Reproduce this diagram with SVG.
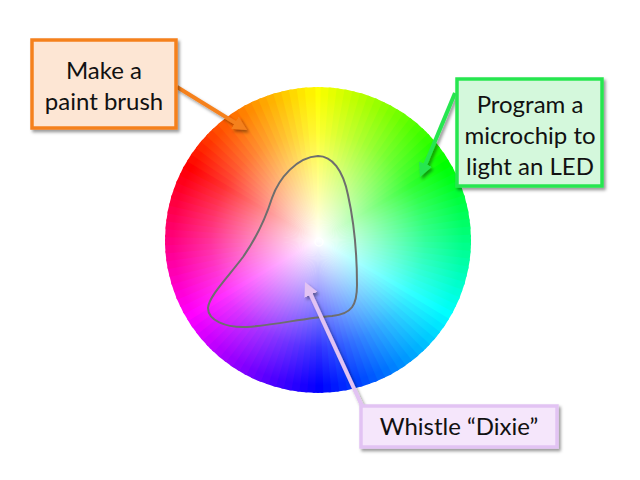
<svg xmlns="http://www.w3.org/2000/svg" width="640" height="480" viewBox="0 0 640 480">
<defs>
<style>
.lbl{font-family:Lato,"Open Sans","DejaVu Sans",sans-serif;font-size:24px;fill:#111;text-anchor:middle}
.box{stroke-width:3.5}
.arr{fill:none;stroke-width:4}
</style>
<path id="w" d="M318,240 L312.4,80 L323.6,80 Z"/>
<clipPath id="wc"><circle cx="318" cy="240" r="153"/></clipPath>
<radialGradient id="wg" cx="318" cy="240" r="153" gradientUnits="userSpaceOnUse">
<stop offset="0" stop-color="#fff" stop-opacity="1"/>
<stop offset="0.35" stop-color="#fff" stop-opacity="0.6"/>
<stop offset="0.7" stop-color="#fff" stop-opacity="0.2"/>
<stop offset="0.95" stop-color="#fff" stop-opacity="0"/>
</radialGradient>
<filter id="sh" x="-20%" y="-20%" width="140%" height="140%">
<feDropShadow dx="2" dy="2.5" stdDeviation="1.5" flood-color="#000" flood-opacity="0.4"/>
</filter>
<marker id="mo" viewBox="0 0 10 10" refX="3" refY="5" markerWidth="14" markerHeight="14" markerUnits="userSpaceOnUse" orient="auto"><path d="M0,0 L10,5 L0,10 Z" fill="#f5811f"/></marker>
<marker id="mg" viewBox="0 0 10 10" refX="3" refY="5" markerWidth="14" markerHeight="14" markerUnits="userSpaceOnUse" orient="auto"><path d="M0,0 L10,5 L0,10 Z" fill="#27e650"/></marker>
<marker id="ml" viewBox="0 0 10 10" refX="3" refY="5" markerWidth="14" markerHeight="14" markerUnits="userSpaceOnUse" orient="auto"><path d="M0,0 L10,5 L0,10 Z" fill="#e2c3f3"/></marker>
</defs>
<rect width="640" height="480" fill="#fff"/>
<g id="wheel">
<g clip-path="url(#wc)">
<use href="#w" transform="rotate(0 318 240)" fill="hsl(60,100%,50%)"/>
<use href="#w" transform="rotate(3 318 240)" fill="hsl(63,100%,50%)"/>
<use href="#w" transform="rotate(6 318 240)" fill="hsl(66,100%,50%)"/>
<use href="#w" transform="rotate(9 318 240)" fill="hsl(69,100%,50%)"/>
<use href="#w" transform="rotate(12 318 240)" fill="hsl(72,100%,50%)"/>
<use href="#w" transform="rotate(15 318 240)" fill="hsl(75,100%,50%)"/>
<use href="#w" transform="rotate(18 318 240)" fill="hsl(78,100%,50%)"/>
<use href="#w" transform="rotate(21 318 240)" fill="hsl(81,100%,50%)"/>
<use href="#w" transform="rotate(24 318 240)" fill="hsl(84,100%,50%)"/>
<use href="#w" transform="rotate(27 318 240)" fill="hsl(87,100%,50%)"/>
<use href="#w" transform="rotate(30 318 240)" fill="hsl(90,100%,50%)"/>
<use href="#w" transform="rotate(33 318 240)" fill="hsl(93,100%,50%)"/>
<use href="#w" transform="rotate(36 318 240)" fill="hsl(96,100%,50%)"/>
<use href="#w" transform="rotate(39 318 240)" fill="hsl(99,100%,50%)"/>
<use href="#w" transform="rotate(42 318 240)" fill="hsl(102,100%,50%)"/>
<use href="#w" transform="rotate(45 318 240)" fill="hsl(105,100%,50%)"/>
<use href="#w" transform="rotate(48 318 240)" fill="hsl(108,100%,50%)"/>
<use href="#w" transform="rotate(51 318 240)" fill="hsl(111,100%,50%)"/>
<use href="#w" transform="rotate(54 318 240)" fill="hsl(114,100%,50%)"/>
<use href="#w" transform="rotate(57 318 240)" fill="hsl(117,100%,50%)"/>
<use href="#w" transform="rotate(60 318 240)" fill="hsl(120,100%,50%)"/>
<use href="#w" transform="rotate(63 318 240)" fill="hsl(123,100%,50%)"/>
<use href="#w" transform="rotate(66 318 240)" fill="hsl(126,100%,50%)"/>
<use href="#w" transform="rotate(69 318 240)" fill="hsl(129,100%,50%)"/>
<use href="#w" transform="rotate(72 318 240)" fill="hsl(132,100%,50%)"/>
<use href="#w" transform="rotate(75 318 240)" fill="hsl(135,100%,50%)"/>
<use href="#w" transform="rotate(78 318 240)" fill="hsl(138,100%,50%)"/>
<use href="#w" transform="rotate(81 318 240)" fill="hsl(141,100%,50%)"/>
<use href="#w" transform="rotate(84 318 240)" fill="hsl(144,100%,50%)"/>
<use href="#w" transform="rotate(87 318 240)" fill="hsl(147,100%,50%)"/>
<use href="#w" transform="rotate(90 318 240)" fill="hsl(150,100%,50%)"/>
<use href="#w" transform="rotate(93 318 240)" fill="hsl(153,100%,50%)"/>
<use href="#w" transform="rotate(96 318 240)" fill="hsl(156,100%,50%)"/>
<use href="#w" transform="rotate(99 318 240)" fill="hsl(159,100%,50%)"/>
<use href="#w" transform="rotate(102 318 240)" fill="hsl(162,100%,50%)"/>
<use href="#w" transform="rotate(105 318 240)" fill="hsl(165,100%,50%)"/>
<use href="#w" transform="rotate(108 318 240)" fill="hsl(168,100%,50%)"/>
<use href="#w" transform="rotate(111 318 240)" fill="hsl(171,100%,50%)"/>
<use href="#w" transform="rotate(114 318 240)" fill="hsl(174,100%,50%)"/>
<use href="#w" transform="rotate(117 318 240)" fill="hsl(177,100%,50%)"/>
<use href="#w" transform="rotate(120 318 240)" fill="hsl(180,100%,50%)"/>
<use href="#w" transform="rotate(123 318 240)" fill="hsl(183,100%,50%)"/>
<use href="#w" transform="rotate(126 318 240)" fill="hsl(186,100%,50%)"/>
<use href="#w" transform="rotate(129 318 240)" fill="hsl(189,100%,50%)"/>
<use href="#w" transform="rotate(132 318 240)" fill="hsl(192,100%,50%)"/>
<use href="#w" transform="rotate(135 318 240)" fill="hsl(195,100%,50%)"/>
<use href="#w" transform="rotate(138 318 240)" fill="hsl(198,100%,50%)"/>
<use href="#w" transform="rotate(141 318 240)" fill="hsl(201,100%,50%)"/>
<use href="#w" transform="rotate(144 318 240)" fill="hsl(204,100%,50%)"/>
<use href="#w" transform="rotate(147 318 240)" fill="hsl(207,100%,50%)"/>
<use href="#w" transform="rotate(150 318 240)" fill="hsl(210,100%,50%)"/>
<use href="#w" transform="rotate(153 318 240)" fill="hsl(213,100%,50%)"/>
<use href="#w" transform="rotate(156 318 240)" fill="hsl(216,100%,50%)"/>
<use href="#w" transform="rotate(159 318 240)" fill="hsl(219,100%,50%)"/>
<use href="#w" transform="rotate(162 318 240)" fill="hsl(222,100%,50%)"/>
<use href="#w" transform="rotate(165 318 240)" fill="hsl(225,100%,50%)"/>
<use href="#w" transform="rotate(168 318 240)" fill="hsl(228,100%,50%)"/>
<use href="#w" transform="rotate(171 318 240)" fill="hsl(231,100%,50%)"/>
<use href="#w" transform="rotate(174 318 240)" fill="hsl(234,100%,50%)"/>
<use href="#w" transform="rotate(177 318 240)" fill="hsl(237,100%,50%)"/>
<use href="#w" transform="rotate(180 318 240)" fill="hsl(240,100%,50%)"/>
<use href="#w" transform="rotate(183 318 240)" fill="hsl(243,100%,50%)"/>
<use href="#w" transform="rotate(186 318 240)" fill="hsl(246,100%,50%)"/>
<use href="#w" transform="rotate(189 318 240)" fill="hsl(249,100%,50%)"/>
<use href="#w" transform="rotate(192 318 240)" fill="hsl(252,100%,50%)"/>
<use href="#w" transform="rotate(195 318 240)" fill="hsl(255,100%,50%)"/>
<use href="#w" transform="rotate(198 318 240)" fill="hsl(258,100%,50%)"/>
<use href="#w" transform="rotate(201 318 240)" fill="hsl(261,100%,50%)"/>
<use href="#w" transform="rotate(204 318 240)" fill="hsl(264,100%,50%)"/>
<use href="#w" transform="rotate(207 318 240)" fill="hsl(267,100%,50%)"/>
<use href="#w" transform="rotate(210 318 240)" fill="hsl(270,100%,50%)"/>
<use href="#w" transform="rotate(213 318 240)" fill="hsl(273,100%,50%)"/>
<use href="#w" transform="rotate(216 318 240)" fill="hsl(276,100%,50%)"/>
<use href="#w" transform="rotate(219 318 240)" fill="hsl(279,100%,50%)"/>
<use href="#w" transform="rotate(222 318 240)" fill="hsl(282,100%,50%)"/>
<use href="#w" transform="rotate(225 318 240)" fill="hsl(285,100%,50%)"/>
<use href="#w" transform="rotate(228 318 240)" fill="hsl(288,100%,50%)"/>
<use href="#w" transform="rotate(231 318 240)" fill="hsl(291,100%,50%)"/>
<use href="#w" transform="rotate(234 318 240)" fill="hsl(294,100%,50%)"/>
<use href="#w" transform="rotate(237 318 240)" fill="hsl(297,100%,50%)"/>
<use href="#w" transform="rotate(240 318 240)" fill="hsl(300,100%,50%)"/>
<use href="#w" transform="rotate(243 318 240)" fill="hsl(303,100%,50%)"/>
<use href="#w" transform="rotate(246 318 240)" fill="hsl(306,100%,50%)"/>
<use href="#w" transform="rotate(249 318 240)" fill="hsl(309,100%,50%)"/>
<use href="#w" transform="rotate(252 318 240)" fill="hsl(312,100%,50%)"/>
<use href="#w" transform="rotate(255 318 240)" fill="hsl(315,100%,50%)"/>
<use href="#w" transform="rotate(258 318 240)" fill="hsl(318,100%,50%)"/>
<use href="#w" transform="rotate(261 318 240)" fill="hsl(321,100%,50%)"/>
<use href="#w" transform="rotate(264 318 240)" fill="hsl(324,100%,50%)"/>
<use href="#w" transform="rotate(267 318 240)" fill="hsl(327,100%,50%)"/>
<use href="#w" transform="rotate(270 318 240)" fill="hsl(330,100%,50%)"/>
<use href="#w" transform="rotate(273 318 240)" fill="hsl(333,100%,50%)"/>
<use href="#w" transform="rotate(276 318 240)" fill="hsl(336,100%,50%)"/>
<use href="#w" transform="rotate(279 318 240)" fill="hsl(339,100%,50%)"/>
<use href="#w" transform="rotate(282 318 240)" fill="hsl(342,100%,50%)"/>
<use href="#w" transform="rotate(285 318 240)" fill="hsl(345,100%,50%)"/>
<use href="#w" transform="rotate(288 318 240)" fill="hsl(348,100%,50%)"/>
<use href="#w" transform="rotate(291 318 240)" fill="hsl(351,100%,50%)"/>
<use href="#w" transform="rotate(294 318 240)" fill="hsl(354,100%,50%)"/>
<use href="#w" transform="rotate(297 318 240)" fill="hsl(357,100%,50%)"/>
<use href="#w" transform="rotate(300 318 240)" fill="hsl(0,100%,50%)"/>
<use href="#w" transform="rotate(303 318 240)" fill="hsl(3,100%,50%)"/>
<use href="#w" transform="rotate(306 318 240)" fill="hsl(6,100%,50%)"/>
<use href="#w" transform="rotate(309 318 240)" fill="hsl(9,100%,50%)"/>
<use href="#w" transform="rotate(312 318 240)" fill="hsl(12,100%,50%)"/>
<use href="#w" transform="rotate(315 318 240)" fill="hsl(15,100%,50%)"/>
<use href="#w" transform="rotate(318 318 240)" fill="hsl(18,100%,50%)"/>
<use href="#w" transform="rotate(321 318 240)" fill="hsl(21,100%,50%)"/>
<use href="#w" transform="rotate(324 318 240)" fill="hsl(24,100%,50%)"/>
<use href="#w" transform="rotate(327 318 240)" fill="hsl(27,100%,50%)"/>
<use href="#w" transform="rotate(330 318 240)" fill="hsl(30,100%,50%)"/>
<use href="#w" transform="rotate(333 318 240)" fill="hsl(33,100%,50%)"/>
<use href="#w" transform="rotate(336 318 240)" fill="hsl(36,100%,50%)"/>
<use href="#w" transform="rotate(339 318 240)" fill="hsl(39,100%,50%)"/>
<use href="#w" transform="rotate(342 318 240)" fill="hsl(42,100%,50%)"/>
<use href="#w" transform="rotate(345 318 240)" fill="hsl(45,100%,50%)"/>
<use href="#w" transform="rotate(348 318 240)" fill="hsl(48,100%,50%)"/>
<use href="#w" transform="rotate(351 318 240)" fill="hsl(51,100%,50%)"/>
<use href="#w" transform="rotate(354 318 240)" fill="hsl(54,100%,50%)"/>
<use href="#w" transform="rotate(357 318 240)" fill="hsl(57,100%,50%)"/>
<circle cx="318" cy="240" r="153" fill="url(#wg)"/>
</g>
<circle cx="319" cy="242" r="4" fill="none" stroke="#fff" stroke-width="1.5" opacity="0.8"/>
</g>
<g id="region">
<path d="M318,156 C332,156 343,170 348,195 C354,222 357,255 357,285 C357,305 352,314 332,316 C305,318 275,325 247,327 C225,328 208,320 208,308 C209,296 228,277 243,257 C255,240 265,220 272,198 C279,178 297,157 318,156 Z" fill="none" stroke="#6e6e6e" stroke-width="2"/>
</g>
<g id="connectors" filter="url(#sh)">
<line class="arr" x1="177" y1="87" x2="238.6" y2="124.9" stroke="#f5811f" marker-end="url(#mo)"/>
<line class="arr" x1="455" y1="93" x2="423.8" y2="168" stroke="#27e650" marker-end="url(#mg)"/>
<line class="arr" x1="363" y1="408" x2="309.1" y2="290.9" stroke="#e2c3f3" marker-end="url(#ml)"/>
</g>
<g id="brush">
<rect class="box" x="32" y="40" width="144" height="88" fill="#fde6d4" stroke="#f5811f" filter="url(#sh)"/>
<text class="lbl" x="104" y="79">Make a</text>
<text class="lbl" x="104" y="110">paint brush</text>
</g>
<g id="microchip">
<rect class="box" x="457" y="79" width="145" height="107" fill="#d4f8dc" stroke="#27e650" filter="url(#sh)"/>
<text class="lbl" x="530" y="113">Program a</text>
<text class="lbl" x="530" y="144">microchip to</text>
<text class="lbl" x="530" y="175">light an LED</text>
</g>
<g id="whistle">
<rect class="box" x="361" y="406" width="196" height="41" stroke-width="3" fill="#f5e6fb" stroke="#e2c3f3" filter="url(#sh)"/>
<text class="lbl" x="459" y="435">Whistle “Dixie”</text>
</g>
</svg>
